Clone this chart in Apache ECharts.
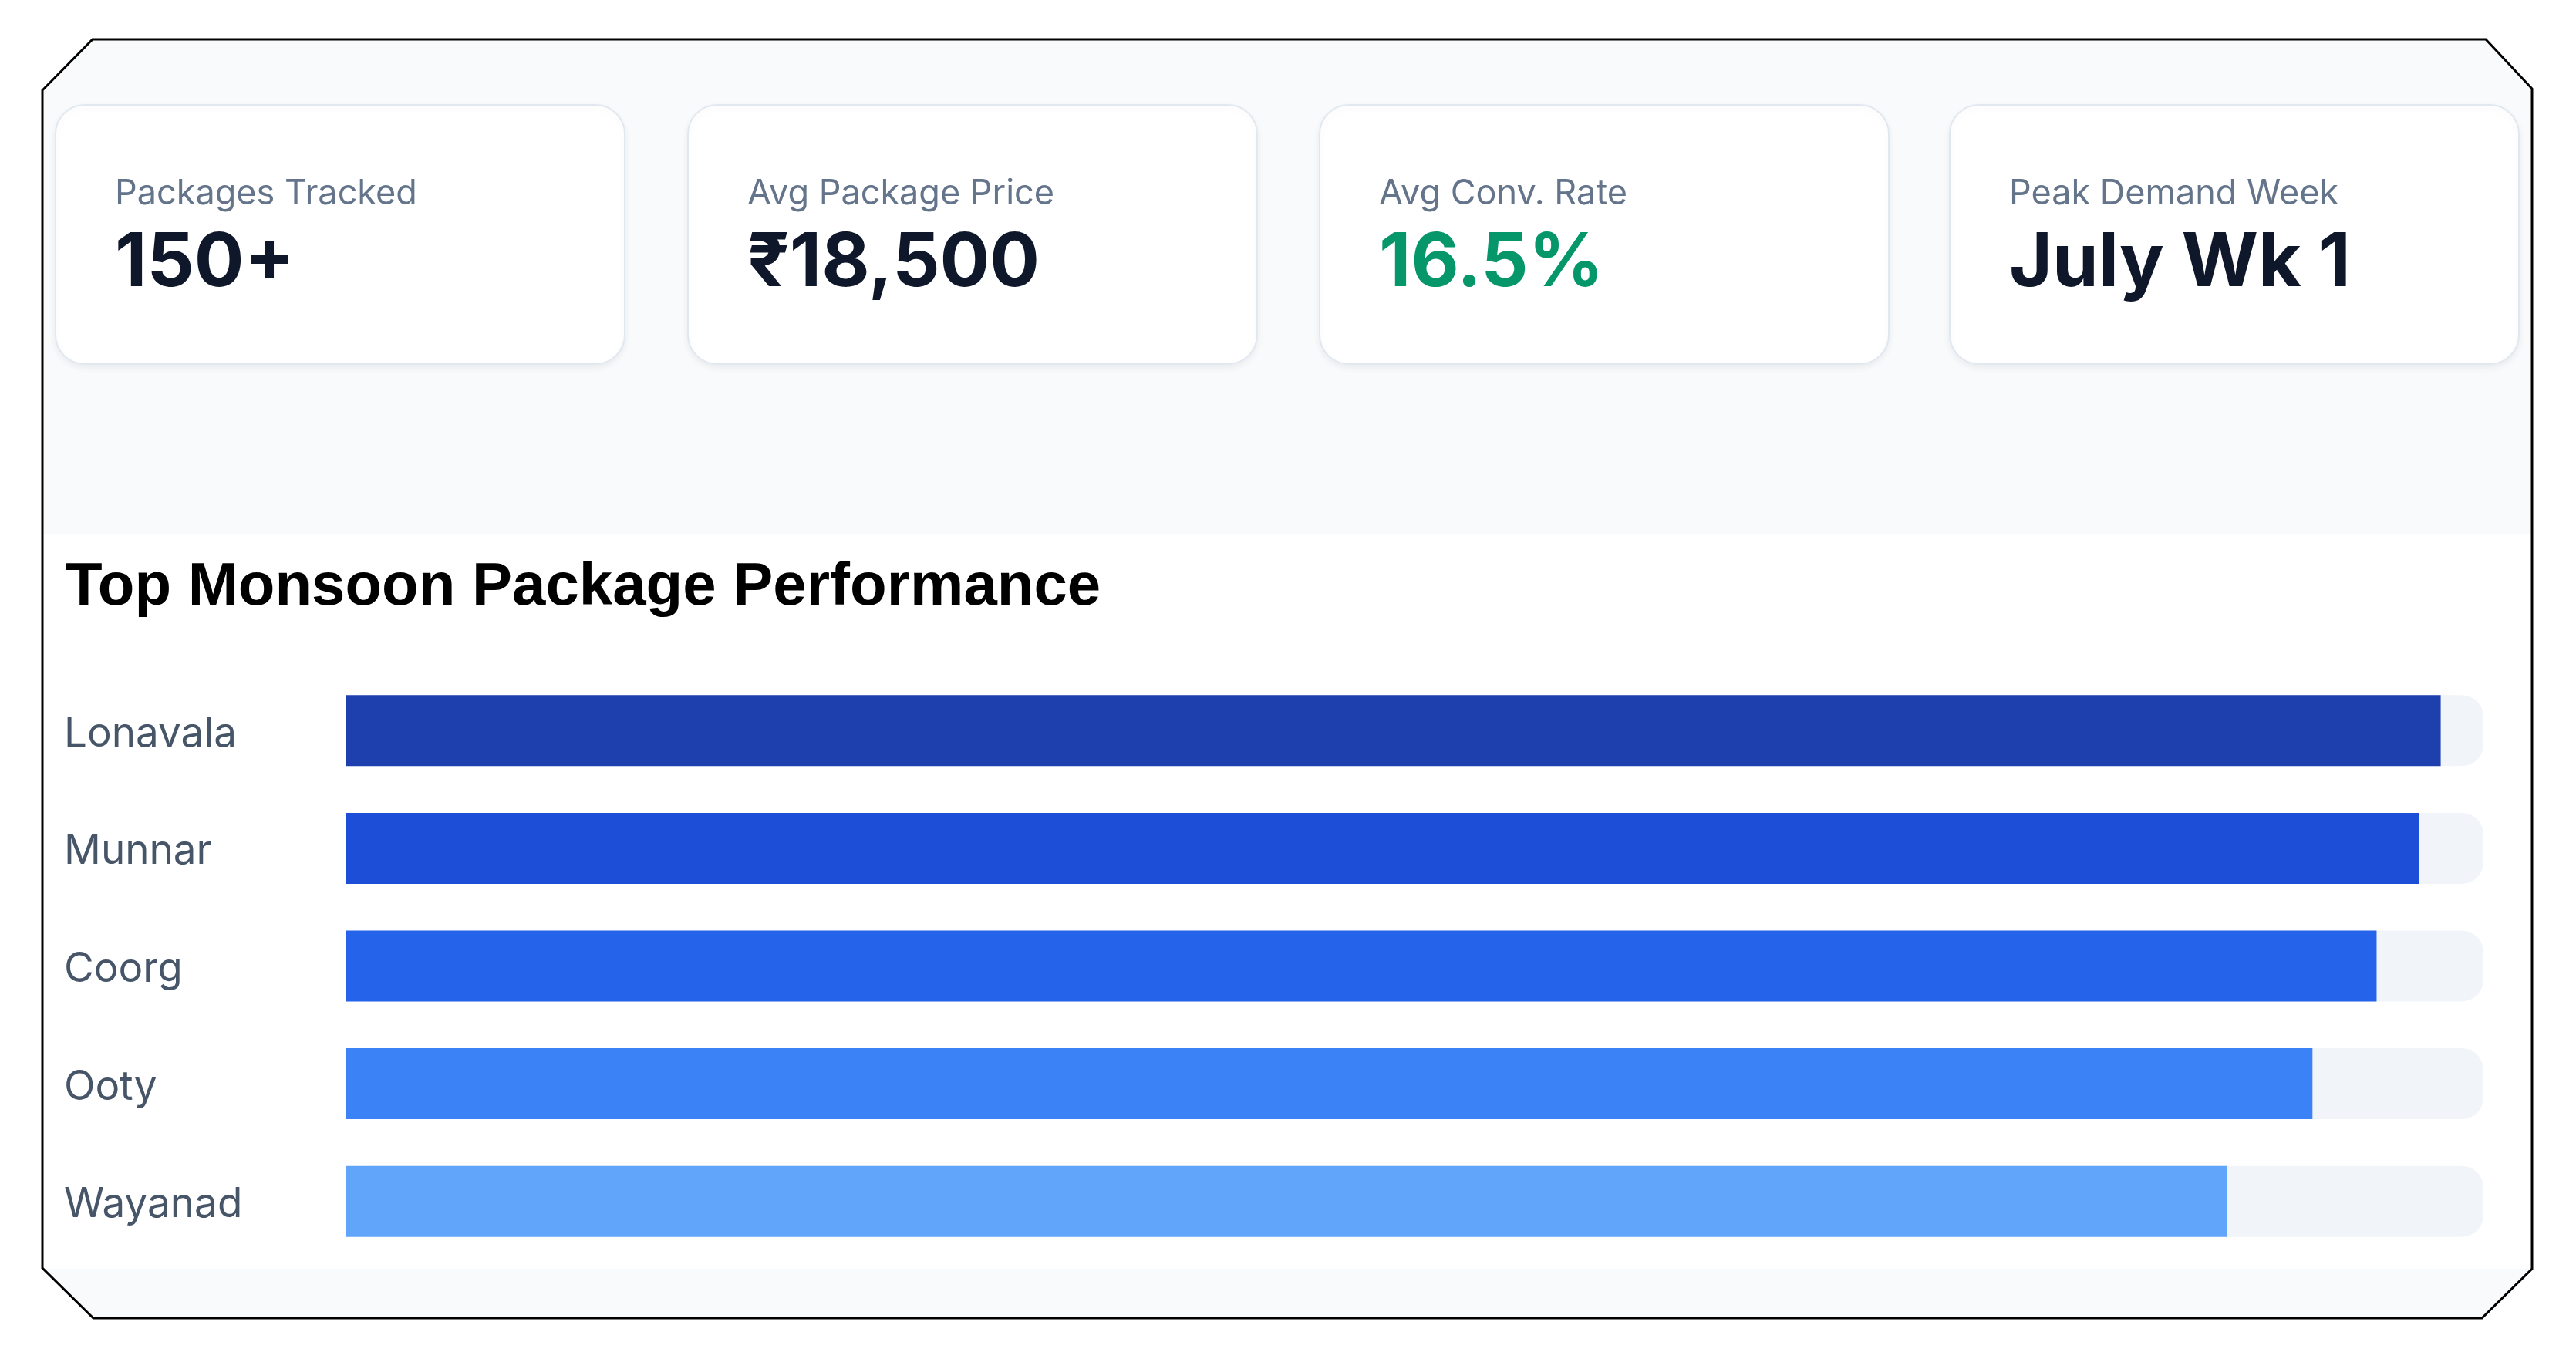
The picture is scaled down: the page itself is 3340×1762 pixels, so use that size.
<!DOCTYPE html>
<html>
<head>
<meta charset="utf-8">
<script src="https://cdn.jsdelivr.net/npm/echarts@6/dist/echarts.min.js"></script>
<style>
  html, body { margin: 0; padding: 0; background: #ffffff; }
  #chart { width: 3340px; height: 1762px; }
</style>
</head>
<body>
<div id="chart"></div>
<script>
// ---- Data ----
const categories = ['Lonavala', 'Munnar', 'Coorg', 'Ooty', 'Wayanad'];
const scores = [98, 97, 95, 92, 88];
const kpiLabels = ['Packages Tracked', 'Avg Package Price', 'Avg Conv. Rate', 'Peak Demand Week'];
const kpiValues = ['150+', '₹18,500', '16.5%', 'July Wk 1'];
const chartTitle = 'Top Monsoon Package Performance';

// ---- Styles ----
const barPalette = ['#1e40af', '#1d4ed8', '#2563eb', '#3b82f6', '#60a5fa'];
const kpiValueColors = ['#0f172a', '#0f172a', '#059669', '#0f172a'];
const cardLefts = [72, 892, 1711, 2528];
const uiFont = 'Inter, "Noto Sans", "DejaVu Sans", sans-serif';

const chart = echarts.init(document.getElementById('chart'), null, { renderer: 'canvas' });

const framePoints = [[120, 51], [3223, 51], [3283, 115], [3283, 1645], [3218, 1709], [121, 1709], [55, 1644], [55, 117]];

const graphics = [];
// inner gray background
graphics.push({ type: 'polygon', z: -20, shape: { points: framePoints }, style: { fill: '#f8fafc' }, silent: true });
// white chart panel
graphics.push({ type: 'rect', z: -19, shape: { x: 55, y: 692, width: 3228, height: 953 }, style: { fill: '#ffffff' }, silent: true });
// cards
kpiLabels.forEach((lab, i) => {
  const x = cardLefts[i];
  graphics.push({
    type: 'rect', z: -10,
    shape: { x: x, y: 136, width: 738, height: 336, r: 38 },
    style: { fill: '#ffffff', stroke: '#e2e8f0', lineWidth: 2, shadowBlur: 10, shadowOffsetY: 4, shadowColor: 'rgba(15,23,42,0.06)' },
    silent: true
  });
  graphics.push({
    type: 'text', z: -5, x: x + 77, y: 251,
    style: { text: lab, fill: '#64748b', font: '400 45px ' + uiFont, verticalAlign: 'middle', align: 'left' },
    silent: true
  });
  graphics.push({
    type: 'text', z: -5, x: x + 77, y: 342,
    style: { text: kpiValues[i], fill: kpiValueColors[i], font: '700 96px ' + uiFont, verticalAlign: 'middle', align: 'left' },
    silent: true
  });
});
// section title
graphics.push({
  type: 'text', z: -5, x: 85, y: 762,
  style: { text: chartTitle, fill: '#000000', font: '700 78px "Liberation Sans", Arial, sans-serif', verticalAlign: 'middle', align: 'left' },
  silent: true
});
// frame outline
graphics.push({ type: 'polygon', z: 100, shape: { points: framePoints }, style: { fill: 'none', stroke: '#000000', lineWidth: 3 }, silent: true });

chart.setOption({
  animation: false,
  backgroundColor: '#ffffff',
  graphic: graphics,
  grid: { left: 449, right: 120, top: 871, height: 763, containLabel: false },
  xAxis: {
    type: 'value', min: 0, max: 100, show: false
  },
  yAxis: {
    type: 'category', data: categories, inverse: true,
    axisLine: { show: false }, axisTick: { show: false }, splitLine: { show: false },
    axisLabel: { align: 'left', verticalAlign: 'top', lineHeight: 9, margin: 366, color: '#475569', fontSize: 53, fontFamily: uiFont, fontWeight: 400 }
  },
  series: [{
    type: 'bar',
    data: scores.map((v, i) => ({ value: v, itemStyle: { color: barPalette[i] } })),
    barWidth: 92,
    showBackground: true,
    backgroundStyle: { color: '#f1f5f9', borderRadius: 28 },
    itemStyle: { borderRadius: 0 }
  }]
});
</script>
</body>
</html>
